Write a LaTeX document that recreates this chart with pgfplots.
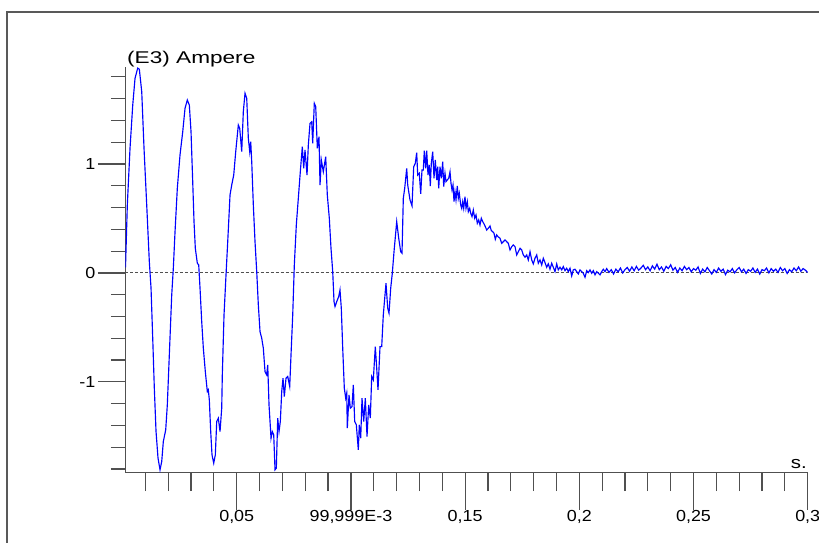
\documentclass[border=0pt]{standalone}
\usepackage{fontspec}
\setmainfont{Liberation Sans}
\usepackage{graphicx}
\usepackage{pgfplots}
\pgfplotsset{compat=1.18}
\usepackage{pgfplotstable}
\newcommand\tl[1]{\scalebox{1.12}[1]{#1}}
\definecolor{axgray}{HTML}{505050}

\pgfplotstableread{
t y
0.00130 0.050
0.00210 0.624
0.00328 1.144
0.00447 1.541
0.00547 1.786
0.00665 1.880
0.00736 1.870
0.00841 1.663
0.00941 1.144
0.01059 0.624
0.01173 0.104
0.01248 -0.140
0.01322 -0.599
0.01392 -1.058
0.01467 -1.456
0.01554 -1.700
0.01642 -1.807
0.01716 -1.731
0.01786 -1.548
0.01891 -1.440
0.01961 -1.211
0.02049 -0.752
0.02154 -0.202
0.02224 0.043
0.02299 0.379
0.02399 0.777
0.02517 1.083
0.02636 1.296
0.02736 1.511
0.02837 1.587
0.02925 1.541
0.02999 1.296
0.03073 0.838
0.03130 0.471
0.03187 0.226
0.03275 0.089
0.03336 0.073
0.03393 -0.140
0.03467 -0.447
0.03538 -0.691
0.03625 -0.906
0.03713 -1.089
0.03756 -1.073
0.03800 -1.165
0.03861 -1.456
0.03918 -1.670
0.03993 -1.746
0.04063 -1.670
0.04124 -1.364
0.04194 -1.333
0.04269 -1.456
0.04343 -1.241
0.04369 -0.936
0.04444 -0.385
0.04531 -0.018
0.04606 0.287
0.04707 0.716
0.04781 0.807
0.04869 0.899
0.04956 1.113
0.05070 1.358
0.05131 1.327
0.05219 1.113
0.05289 1.480
0.05363 1.649
0.05438 1.603
0.05508 1.236
0.05569 1.113
0.05613 1.205
0.05657 1.021
0.05727 0.624
0.05801 0.287
0.05876 0.012
0.05946 -0.294
0.06020 -0.538
0.06094 -0.599
0.06165 -0.691
0.06239 -0.906
0.06313 -0.936
0.06357 -0.844
0.06414 -1.211
0.06502 -1.517
0.06558 -1.456
0.06620 -1.486
0.06677 -1.807
0.06734 -1.792
0.06795 -1.333
0.06852 -1.456
0.06909 -1.364
0.06970 -1.089
0.07027 -0.966
0.07084 -1.135
0.07158 -0.966
0.07233 -0.951
0.07320 -1.043
0.07377 -0.752
0.07452 -0.385
0.07522 0.073
0.07609 0.440
0.07697 0.685
0.07784 0.929
0.07872 1.159
0.07933 0.960
0.07990 1.128
0.08078 0.899
0.08135 1.174
0.08209 1.373
0.08283 1.388
0.08327 1.190
0.08397 1.557
0.08459 1.526
0.08529 1.144
0.08603 1.250
0.08647 0.807
0.08704 1.037
0.08791 0.929
0.08896 1.067
0.08966 0.716
0.09054 0.502
0.09128 0.226
0.09203 0.012
0.09260 -0.263
0.09304 -0.309
0.09378 -0.263
0.09466 -0.217
0.09522 -0.156
0.09579 -0.324
0.09641 -0.691
0.09711 -1.058
0.09772 -1.150
0.09816 -1.104
0.09842 -1.425
0.09917 -1.119
0.09974 -1.241
0.10048 -1.227
0.10105 -1.028
0.10166 -1.364
0.10236 -1.394
0.10324 -1.624
0.10367 -1.394
0.10429 -1.517
0.10486 -1.150
0.10560 -1.364
0.10630 -1.150
0.10705 -1.502
0.10779 -1.211
0.10849 -1.333
0.10910 -0.951
0.10980 -0.982
0.11068 -0.676
0.11129 -0.874
0.11186 -1.073
0.11274 -0.676
0.11348 -0.676
0.11418 -0.385
0.11536 -0.095
0.11611 -0.324
0.11668 -0.370
0.11742 -0.140
0.11812 -0.003
0.11887 0.195
0.12005 0.471
0.12093 0.318
0.12180 0.195
0.12237 0.181
0.12294 0.685
0.12355 0.777
0.12443 0.960
0.12487 0.807
0.12587 0.670
0.12675 0.615
0.12749 0.975
0.12819 1.006
0.12880 1.104
0.12924 0.899
0.12994 0.915
0.13056 0.725
0.13112 0.945
0.13169 0.945
0.13213 1.122
0.13275 0.960
0.13318 1.122
0.13375 0.899
0.13432 0.991
0.13476 0.798
0.13520 1.006
0.13581 1.113
0.13638 0.869
0.13695 1.037
0.13756 0.853
0.13800 0.975
0.13844 0.777
0.13901 0.975
0.13958 0.869
0.14019 1.021
0.14063 0.792
0.14119 0.915
0.14163 0.838
0.14220 0.853
0.14282 0.869
0.14339 0.929
0.14382 0.823
0.14426 0.761
0.14470 0.807
0.14514 0.654
0.14557 0.746
0.14601 0.670
0.14658 0.798
0.14702 0.685
0.14746 0.731
0.14807 0.624
0.14851 0.593
0.14894 0.654
0.14938 0.593
0.14995 0.700
0.15039 0.593
0.15096 0.654
0.15140 0.562
0.15201 0.593
0.15245 0.548
0.15302 0.517
0.15359 0.578
0.15420 0.502
0.15477 0.532
0.15534 0.456
0.15595 0.486
0.15652 0.440
0.15709 0.502
0.15770 0.471
0.15827 0.450
0.15884 0.425
0.15945 0.394
0.16015 0.410
0.16090 0.431
0.16147 0.388
0.16208 0.379
0.16265 0.364
0.16322 0.309
0.16383 0.349
0.16440 0.333
0.16528 0.318
0.16602 0.272
0.16672 0.287
0.16747 0.303
0.16821 0.287
0.16891 0.272
0.16966 0.211
0.17040 0.241
0.17110 0.257
0.17185 0.241
0.17259 0.165
0.17329 0.195
0.17404 0.226
0.17478 0.211
0.17548 0.165
0.17623 0.144
0.17697 0.165
0.17767 0.119
0.17842 0.195
0.17916 0.119
0.17986 0.083
0.18060 0.135
0.18135 0.165
0.18205 0.089
0.18279 0.119
0.18353 0.073
0.18423 0.135
0.18498 0.095
0.18572 0.052
0.18642 0.083
0.18717 0.034
0.18791 0.089
0.18861 0.052
0.18936 0.012
0.19010 0.083
0.19080 0.028
0.19155 0.052
0.19229 0.028
0.19299 0.058
0.19374 0.021
0.19448 0.043
0.19518 0.012
0.19593 0.043
0.19667 -0.028
0.19737 0.028
0.19812 0.034
0.19886 0.012
0.19956 -0.009
0.20031 0.028
0.20105 0.012
0.20175 -0.003
0.20250 -0.040
0.20324 0.021
0.20394 0.003
0.20469 0.028
0.20543 -0.003
0.20613 0.021
0.20688 -0.018
0.20762 0.012
0.20832 -0.003
0.20907 -0.018
0.20980 0.012
0.21050 0.034
0.21125 0.012
0.212 0.040
0.213 0.005
0.214 0.030
0.215 -0.010
0.216 0.035
0.217 0.010
0.218 0.045
0.219 0.000
0.220 0.030
0.221 0.050
0.222 0.015
0.223 0.055
0.224 0.020
0.225 0.060
0.226 0.025
0.227 0.045
0.228 0.070
0.229 0.030
0.230 0.055
0.231 0.020
0.232 0.065
0.233 0.035
0.234 0.080
0.235 0.030
0.236 0.055
0.237 0.015
0.238 0.060
0.239 0.040
0.240 0.075
0.241 0.025
0.242 0.050
0.243 0.005
0.244 0.045
0.245 0.020
0.246 0.060
0.247 0.030
0.248 0.050
0.249 0.010
0.250 0.040
0.251 0.025
0.252 0.055
0.253 -0.005
0.254 0.035
0.255 0.010
0.256 0.050
0.257 0.020
0.258 -0.010
0.259 0.030
0.260 0.005
0.261 0.045
0.262 0.015
0.263 0.035
0.264 -0.015
0.265 0.025
0.266 0.010
0.267 0.040
0.268 0.000
0.269 0.030
0.270 0.050
0.271 0.010
0.272 0.035
0.273 -0.005
0.274 0.030
0.275 0.015
0.276 0.045
0.277 0.005
0.278 0.035
0.279 -0.010
0.280 0.030
0.281 0.020
0.282 0.045
0.283 0.000
0.284 0.040
0.285 0.015
0.286 0.035
0.287 0.005
0.288 0.050
0.289 0.020
0.290 0.040
0.291 -0.005
0.292 0.030
0.293 0.010
0.294 0.045
0.295 0.020
0.296 0.055
0.297 0.015
0.298 0.040
0.299 0.025
0.300 0.005
}\current

\pgfplotsset{
  base/.style={
    at={(0pt,0pt)}, anchor=south west,
    scale only axis, width=682.2pt, height=405.6pt,
    xmin=0.0013, xmax=0.3, ymin=-1.83, ymax=1.893,
    tick style={axgray, line width=1.2pt},
    ticklabel style={font=\fontsize{16}{18}\selectfont, inner sep=0pt},
  },
  noarrows/.style={
    axis line style={-, axgray, line width=1.3pt},
    every outer x axis line/.append style={-},
    every outer y axis line/.append style={-},
    every inner x axis line/.append style={-},
    every inner y axis line/.append style={-},
    x axis line style={-}, y axis line style={-},
    tick align=outside, xtick align=outside, ytick align=outside,
  }
}

\begin{document}
\begin{tikzpicture}
\useasboundingbox (-125.5pt,-70.7pt) rectangle (693.5pt,472.3pt);
\draw[black!65, line width=1.3pt] (-118.5pt,-90pt) -- (-118.5pt,460.3pt) -- (710pt,460.3pt);
% x axis with its ticks
\begin{axis}[base,
    axis x line=bottom, axis y line=none, noarrows,
    ytick=\empty,
    xtick={0.05,0.1,0.15,0.2,0.25,0.3},
    xticklabels={\tl{0,05},\tl{99,999E-3},\tl{0,15},\tl{0,2},\tl{0,25},\tl{0,3}},
    minor xtick={0.01,0.02,0.03,0.04,0.06,0.07,0.08,0.09,0.11,0.12,0.13,0.14,0.16,0.17,0.18,0.19,0.21,0.22,0.23,0.24,0.26,0.27,0.28,0.29},
    major tick length=37.7pt, minor tick length=18.7pt,
    xticklabel style={anchor=north},
  ]
\end{axis}
% y axis, ticks and the curve
\begin{axis}[base,
    axis y line=left, axis x line=none, noarrows,
    xtick=\empty,
    ytick={-1,0,1},
    yticklabels={\tl{-1},\tl{0},\tl{1}},
    minor ytick={-1.8,-1.6,-1.4,-1.2,-0.8,-0.6,-0.4,-0.2,0.2,0.4,0.6,0.8,1.2,1.4,1.6,1.8},
    major tick length=27.5pt, minor tick length=14.5pt,
    yticklabel style={anchor=east, xshift=-2.5pt},
  ]
  \addplot[axgray, line width=0.9pt, dash pattern=on 3pt off 2pt] coordinates {(0.0013,0) (0.3,0)};
  \addplot[blue, line width=1.15pt] table[x=t, y=y] {\current};
\end{axis}
\node[anchor=base west, inner sep=0pt] at (1.5pt,409pt) {\scalebox{1.33}[1]{\fontsize{17}{20}\selectfont (E3) Ampere}};
\node[anchor=base east, inner sep=0pt] at (681.5pt,3.5pt) {\scalebox{1.2}[1]{\fontsize{17}{20}\selectfont s.}};
\end{tikzpicture}
\end{document}
